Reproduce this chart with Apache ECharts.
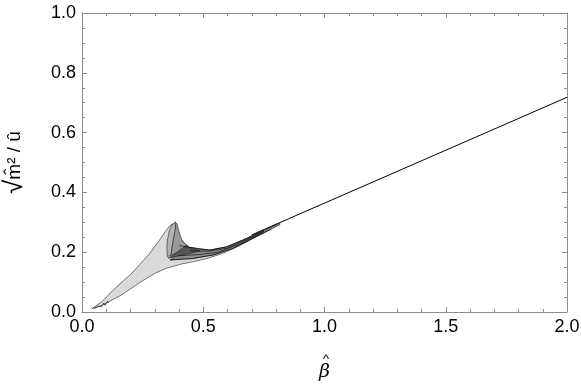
<!DOCTYPE html>
<html>
<head>
<meta charset="utf-8">
<script src="https://cdn.jsdelivr.net/npm/echarts@6/dist/echarts.min.js"></script>
<style>
  html, body { margin: 0; padding: 0; background: #fff; }
  #chart { width: 581px; height: 384px; }
</style>
</head>
<body>
<div id="chart"></div>
<script>
// outline of the big light region (upper edge, then along the bundle, then lower edge back)
const lightRegion = [
  [0.041, 0.011], [0.082, 0.035], [0.137, 0.080], [0.206, 0.130], [0.275, 0.192],
  [0.316, 0.236], [0.344, 0.270], [0.362, 0.288], [0.371, 0.294], [0.380, 0.284],
  [0.400, 0.250], [0.440, 0.216], [0.528, 0.207], [0.597, 0.218], [0.679, 0.246],
  [0.734, 0.266], [0.800, 0.290], [0.720, 0.252], [0.650, 0.222], [0.580, 0.196],
  [0.520, 0.180], [0.459, 0.168], [0.412, 0.161], [0.344, 0.145], [0.302, 0.130],
  [0.247, 0.103], [0.165, 0.058], [0.082, 0.022]
];
// left (lighter) part of the spike
const spikeLeft = [
  [0.352, 0.185], [0.350, 0.215], [0.352, 0.240], [0.360, 0.272], [0.372, 0.293],
  [0.384, 0.300], [0.386, 0.280], [0.376, 0.240], [0.367, 0.190]
];
// right (darker) part of the spike
const spikeRight = [
  [0.367, 0.190], [0.376, 0.240], [0.386, 0.280], [0.384, 0.300], [0.392, 0.295],
  [0.398, 0.275], [0.404, 0.258], [0.412, 0.242], [0.420, 0.232], [0.432, 0.222],
  [0.445, 0.214], [0.400, 0.198]
];
const darkWedge = [
  [0.356, 0.180], [0.432, 0.224], [0.445, 0.214], [0.487, 0.204], [0.445, 0.196]
];
const bundleBand = [
  [0.445, 0.216], [0.487, 0.209], [0.528, 0.207], [0.597, 0.218], [0.679, 0.246],
  [0.734, 0.266], [0.816, 0.297], [0.816, 0.292], [0.707, 0.248], [0.624, 0.213],
  [0.542, 0.191], [0.459, 0.179], [0.363, 0.174]
];
const strand1 = [[0.400, 0.222], [0.445, 0.216], [0.528, 0.207], [0.597, 0.218], [0.679, 0.246], [0.750, 0.273]];
const strand2 = [[0.445, 0.205], [0.520, 0.203], [0.600, 0.214], [0.680, 0.243], [0.750, 0.271]];
const strand3 = [[0.400, 0.188], [0.480, 0.192], [0.560, 0.200], [0.640, 0.224], [0.750, 0.268]];
const strand4 = [[0.363, 0.174], [0.459, 0.179], [0.542, 0.191], [0.624, 0.213], [0.707, 0.248], [0.780, 0.276]];
const tipScratch = [[0.050, 0.012], [0.070, 0.020], [0.080, 0.017], [0.090, 0.030], [0.095, 0.022], [0.105, 0.036], [0.110, 0.030]];
const mainLine = [[0.700, 0.258], [2.000, 0.718]];

const xTicks = { min: 0, max: 2, interval: 0.5 };
const yTicks = { min: 0, max: 1, interval: 0.2 };

const font = 'Liberation Sans';
const frame = '#8c8c8c';

const polygon = (pts, fill, z) => ({
  type: 'custom',
  coordinateSystem: 'cartesian2d',
  silent: true,
  z: z,
  clip: true,
  data: pts,
  renderItem(params, api) {
    if (params.dataIndex !== 0) return null;
    return {
      type: 'polygon',
      shape: { points: pts.map(p => api.coord(p)) },
      style: { fill: fill, stroke: '#222', lineWidth: 0.6 },
    };
  },
});

const line = (pts, width, z) => ({
  type: 'line',
  data: pts,
  showSymbol: false,
  silent: true,
  z: z,
  lineStyle: { color: '#000', width: width },
});

const axisBase = (t, pos, labels) => ({
  type: 'value',
  position: pos,
  min: t.min,
  max: t.max,
  interval: t.interval,
  axisLine: { show: true, onZero: false, lineStyle: { color: frame, width: 1 } },
  axisTick: { show: true, inside: true, length: 5, lineStyle: { color: frame } },
  minorTick: { show: true, length: 3, splitNumber: t.max === 2 ? 5 : 4, lineStyle: { color: frame } },
  splitLine: { show: false },
  axisLabel: labels
    ? { show: true, formatter: v => v.toFixed(1), fontSize: 18, fontFamily: font, color: '#000', margin: 6 }
    : { show: false },
});

const chart = echarts.init(document.getElementById('chart'));
chart.setOption({
  animation: false,
  grid: { left: 82, right: 14, top: 13, bottom: 72, containLabel: false, outerBoundsMode: 'none' },
  xAxis: [
    Object.assign(axisBase(xTicks, 'bottom', true), {
      name: '{h|^}\n{b|β}',
      nameLocation: 'middle',
      nameGap: 44,
      nameTextStyle: {
        color: '#000',
        align: 'center',
        rich: {
          h: { fontSize: 13, fontFamily: font, lineHeight: 6, align: 'center', padding: [0, 0, 0, 3] },
          b: { fontSize: 19, fontStyle: 'italic', fontFamily: 'DejaVu Serif', lineHeight: 20, align: 'center' },
        },
      },
    }),
    axisBase(xTicks, 'top', false),
  ],
  yAxis: [
    Object.assign(axisBase(yTicks, 'left', true), {
      name: '{s|√}{t|m\u0302² / u\u0302}',
      nameLocation: 'middle',
      nameGap: 54,
      nameTextStyle: {
        color: '#000',
        rich: {
          s: { fontSize: 26, fontFamily: font },
          t: { fontSize: 19, fontFamily: font },
        },
      },
    }),
    axisBase(yTicks, 'right', false),
  ],
  series: [
    polygon(lightRegion, '#dadada', 2),
    polygon(bundleBand, '#8c8c8c', 3),
    polygon(spikeLeft, '#b4b4b4', 4),
    polygon(spikeRight, '#9a9a9a', 4),
    polygon(darkWedge, '#555555', 5),
    line(strand1, 0.6, 6),
    line(strand2, 0.6, 6),
    line(strand3, 0.6, 6),
    line(strand4, 0.6, 6),
    line(tipScratch, 0.6, 6),
    line(mainLine, 1, 6),
  ],
});
</script>
</body>
</html>
